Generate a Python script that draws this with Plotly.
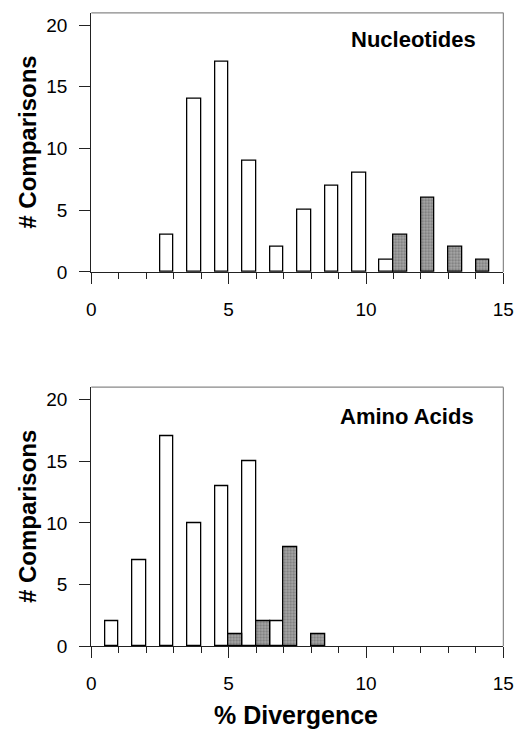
import plotly.graph_objects as go

# Top panel: Nucleotides
nuc_open_x = [3, 4, 5, 6, 7, 8, 9, 10, 11]
nuc_open_y = [3, 14, 17, 9, 2, 5, 7, 8, 1]
nuc_shaded_x = [11, 12, 13, 14]
nuc_shaded_y = [3, 6, 2, 1]

# Bottom panel: Amino Acids
aa_open_x = [1, 2, 3, 4, 5, 6, 7]
aa_open_y = [2, 7, 17, 10, 13, 15, 2]
aa_shaded_x = [5, 6, 7, 8]
aa_shaded_y = [1, 2, 8, 1]

x_major_ticks = [0, 5, 10, 15]
x_minor_ticks = list(range(0, 16))
y_tickvals = [0, 5, 10, 15, 20]

FONT = "Liberation Sans, Arial, sans-serif"

fig = go.Figure()

def add_panel(ox, oy, sx, sy, xa, ya):
    fig.add_trace(go.Bar(
        x=ox, y=oy, width=0.5, offset=-0.5,
        marker=dict(color="white", line=dict(color="black", width=1.3)),
        xaxis=xa, yaxis=ya, showlegend=False))
    fig.add_trace(go.Bar(
        x=sx, y=sy, width=0.5, offset=0,
        marker=dict(color="#a0a0a0", line=dict(color="black", width=1.3),
                    pattern=dict(shape=".", fgcolor="#454545", bgcolor="#ababab",
                                 size=3, solidity=0.45)),
        xaxis=xa, yaxis=ya, showlegend=False))

add_panel(nuc_open_x, nuc_open_y, nuc_shaded_x, nuc_shaded_y, "x", "y")
add_panel(aa_open_x, aa_open_y, aa_shaded_x, aa_shaded_y, "x2", "y2")

W, H = 526, 742
xdom = [89 / W, 514 / W]
ydom1 = [1 - 276 / H, 1 - 13 / H]
ydom2 = [1 - 656 / H, 1 - 393 / H]

xcommon = dict(range=[0, 15], tickvals=x_major_ticks,
               ticks="outside", ticklen=11, tickwidth=1.2, tickcolor="#222",
               minor=dict(tickvals=x_minor_ticks, ticks="outside", ticklen=6,
                          tickwidth=1.1, tickcolor="#222"),
               ticklabelstandoff=9, ticklabeloverflow="allow",
               showline=True, linecolor="#222", linewidth=1.3,
               showgrid=False, zeroline=False, domain=xdom,
               tickfont=dict(family=FONT, size=19, color="black"))
ycommon = dict(range=[0, 21], tickvals=y_tickvals,
               ticks="outside", ticklen=11, tickwidth=1.2, tickcolor="#222",
               ticklabelstandoff=8,
               showline=True, linecolor="#222", linewidth=1.3,
               showgrid=False, zeroline=False,
               tickfont=dict(family=FONT, size=19, color="black"))

fig.update_layout(
    width=W, height=H,
    margin=dict(l=0, r=0, t=0, b=0),
    paper_bgcolor="white", plot_bgcolor="white",
    bargap=0, barmode="overlay",
    xaxis=dict(**xcommon, anchor="y"),
    yaxis=dict(**ycommon, domain=ydom1, anchor="x"),
    xaxis2=dict(**xcommon, anchor="y2"),
    yaxis2=dict(**ycommon, domain=ydom2, anchor="x2"),
)

# light frame on top and right of each panel
for xr, yr in [("x", "y"), ("x2", "y2")]:
    fig.add_shape(type="line", xref=f"{xr} domain", yref=f"{yr} domain",
                  x0=0, x1=1, y0=1, y1=1, line=dict(color="#888", width=1.2))
    fig.add_shape(type="line", xref=f"{xr} domain", yref=f"{yr} domain",
                  x0=1, x1=1, y0=0, y1=1, line=dict(color="#888", width=1.2))

# axis titles
for yd in (ydom1, ydom2):
    fig.add_annotation(text="<b># Comparisons</b>", xref="paper", yref="paper",
                       x=23 / W, y=(yd[0] + yd[1]) / 2, textangle=-90,
                       xanchor="center", yanchor="middle", showarrow=False,
                       font=dict(family=FONT, size=24, color="black"))
fig.add_annotation(text="<b>% Divergence</b>", xref="paper", yref="paper",
                   x=300 / W, y=1 - 726 / H, xanchor="center", yanchor="middle",
                   showarrow=False, font=dict(family=FONT, size=25, color="black"))

fig.add_annotation(text="<b>Nucleotides</b>", xref="paper", yref="paper",
                   x=488 / W, y=1 - 40 / H, xanchor="right", yanchor="middle",
                   showarrow=False, font=dict(family=FONT, size=22, color="black"))
fig.add_annotation(text="<b>Amino Acids</b>", xref="paper", yref="paper",
                   x=486 / W, y=1 - 423 / H, xanchor="right", yanchor="middle",
                   showarrow=False, font=dict(family=FONT, size=22, color="black"))

fig.write_html("out.html", config={"displayModeBar": False},
               post_script="document.body.style.margin='0';document.body.style.overflow='hidden';")
